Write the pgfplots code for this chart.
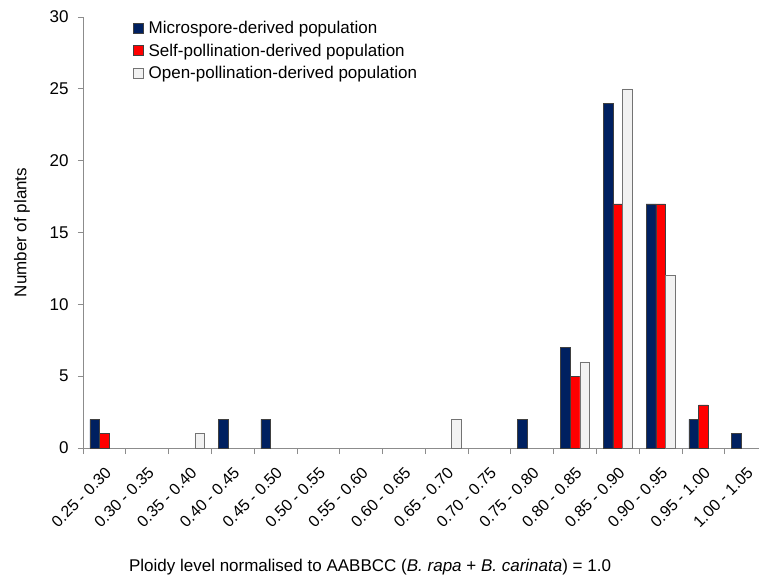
\documentclass[border=0pt]{standalone}
\usepackage{fontspec}
\setmainfont{Liberation Sans}
\usepackage{pgfplots}
\pgfplotsset{compat=1.18}
\definecolor{navybar}{RGB}{0,32,96}
\definecolor{redbar}{RGB}{255,0,0}
\definecolor{palebar}{RGB}{242,242,242}
\definecolor{axgray}{RGB}{140,140,140}
\begin{document}
\begin{tikzpicture}
\begin{axis}[
  width=676pt, height=431pt, scale only axis,
  ybar=0pt, bar width=9.7pt,
  xmin=-0.5, xmax=15.3, ymin=0, ymax=30,
  axis lines=left,
  axis line style={-, axgray, line width=0.8pt},
  tick align=outside,
  tick style={axgray, line width=0.8pt},
  major tick length=5pt, minor tick length=6pt,
  xtick={0,...,15},
  major x tick style={draw=none},
  minor xtick={-0.5,0.5,...,14.5},
  xticklabels={0.25 - 0.30,0.30 - 0.35,0.35 - 0.40,0.40 - 0.45,0.45 - 0.50,0.50 - 0.55,0.55 - 0.60,0.60 - 0.65,0.65 - 0.70,0.70 - 0.75,0.75 - 0.80,0.80 - 0.85,0.85 - 0.90,0.90 - 0.95,0.95 - 1.00,1.00 - 1.05},
  xticklabel style={font=\fontsize{16}{19}\selectfont, rotate=45, anchor=east, xshift=-6pt, yshift=-15pt},
  ytick={0,5,...,30},
  yticklabel style={font=\fontsize{17}{20}\selectfont, xshift=-6pt},
  /pgf/number format/assume math mode=true,
  ylabel={Number of plants},
  ylabel style={font=\fontsize{17}{20}\selectfont, at={(axis description cs:-0.0902,0.5)}, anchor=center},
  xlabel={Ploidy level normalised to AABBCC (\textit{B. rapa} + \textit{B. carinata}) = 1.0},
  xlabel style={font=\fontsize{17}{20}\selectfont, at={(axis description cs:0.4246,0)}, yshift=-119pt, anchor=center},
  legend style={draw=none, fill=none, at={(axis description cs:0.074,0.996)}, anchor=north west,
    font=\fontsize{17}{20}\selectfont, row sep=5pt, inner sep=0pt, cells={anchor=west}},
  legend image code/.code={\draw[#1] (0pt,-5pt) rectangle (10pt,5pt); \path (13pt,0pt);},
]
\addplot[fill=navybar, draw=black!75] coordinates {(0,2) (3,2) (4,2) (10,2) (11,7) (12,24) (13,17) (14,2) (15,1)};
\addplot[fill=redbar, draw=black!75] coordinates {(0,1) (11,5) (12,17) (13,17) (14,3)};
\addplot[fill=palebar, draw=black!55] coordinates {(2,1) (8,2) (11,6) (12,25) (13,12)};
\legend{Microspore-derived population,Self-pollination-derived population,Open-pollination-derived population}
\end{axis}
\pgfresetboundingbox
\path ([xshift=-83pt,yshift=17pt]current axis.north west) rectangle ([yshift=-131pt]current axis.south east);
\end{tikzpicture}
\end{document}
